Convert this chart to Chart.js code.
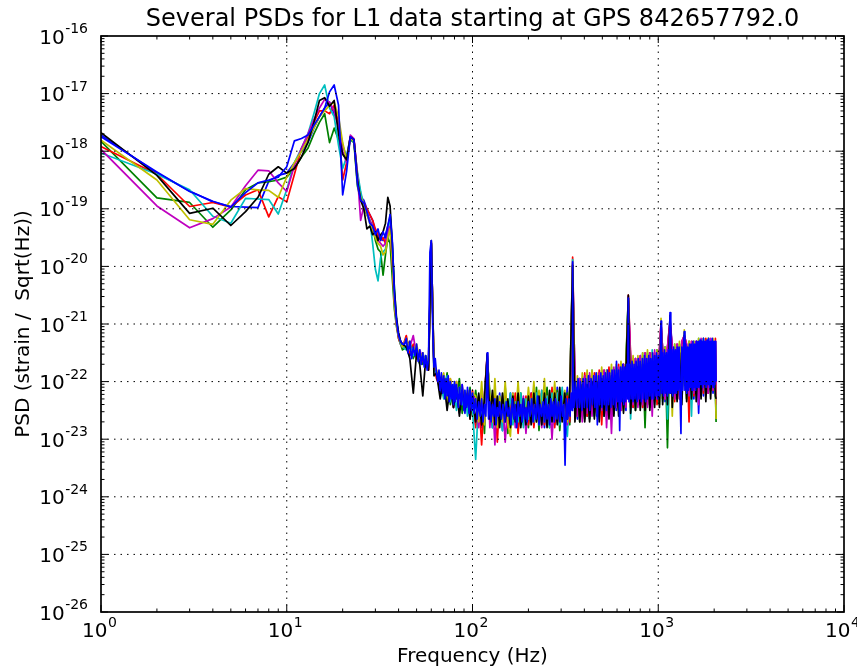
<!DOCTYPE html>
<html>
<head>
<meta charset="utf-8">
<title>Several PSDs for L1 data</title>
<script src="https://cdn.jsdelivr.net/npm/chart.js@4.4.1/dist/chart.umd.min.js"></script>
<style>
  html, body { margin: 0; padding: 0; background: #fff; }
  #psd-chart { display: block; }
</style>
</head>
<body>
<canvas id="psd-chart" width="857" height="669"></canvas>
<script>
// frequency bins (Hz) read for the first seven curves
const freqs = [
  1, 2, 3, 4, 5, 6, 7, 8, 9, 10, 11, 12, 13, 14, 15, 16, 17, 18, 19, 20, 21,
  22, 23, 24, 25, 26, 27, 28, 29, 30, 31, 32, 33, 34, 35, 36, 37, 38, 39, 40, 41, 42,
  44, 46, 48, 50, 52, 54, 56, 58, 60, 62, 64,
  67, 70, 73, 76, 79, 82, 85, 88, 91, 94, 97, 100,
  104, 108, 112, 116, 120, 124, 128, 132, 136, 140, 145, 150, 155, 160, 165, 170, 176, 182, 188, 194, 200,
  207, 214, 221, 228, 236, 244, 252, 260, 268, 277, 286, 295, 304, 314, 324, 334, 346, 356, 367, 378, 390, 402,
  414, 427, 440, 453, 467, 481, 496, 511, 527, 543, 560, 577, 594, 612, 630, 650, 670, 690, 710, 732, 754, 777, 800,
  824, 849, 875, 901, 928, 956, 985, 1015, 1035, 1056, 1088, 1121, 1157, 1190, 1226, 1263, 1301, 1340, 1381, 1422,
  1465, 1510, 1555, 1602, 1650, 1700, 1751, 1804, 1858, 1914, 1972, 2031, 2048
];

// finer bins for the last (top-most) curve, which forms the solid band
const freqsFine = [
  1, 2, 3, 4, 5, 6, 7, 8, 9, 10, 11, 12, 13, 14, 15, 16, 17, 18, 19, 20, 21,
  22, 23, 24, 25, 26, 27, 28, 29, 30, 31, 32, 33, 34, 35, 36, 37, 38, 39, 40, 41, 42,
  43, 44, 45, 46, 47, 48, 49, 50, 51, 52, 53, 54, 55, 56, 57, 58, 59, 60, 61, 62, 63, 64,
  65, 66, 67, 68, 69, 70, 71, 72, 73, 74, 75, 76, 77, 78, 79, 80,
  81, 82, 84, 85, 87, 88, 90, 91, 93, 94, 96, 97, 99, 100,
  102, 104, 106, 108, 110, 112, 114, 116, 118, 119, 120, 121, 122, 124, 126, 128, 130, 132, 134, 136, 138, 140,
  143, 146, 149, 152, 155, 158, 161, 164, 167, 170, 173, 176, 179, 182, 185, 188, 191, 194, 197, 200,
  204, 208, 212, 216, 220, 224, 228, 232, 236, 240, 244, 248, 252, 256, 260, 264, 268, 272, 276, 280,
  285, 290, 295, 300, 305, 310, 315, 320, 325, 330, 335, 340, 344, 346, 348, 352, 358, 364, 370, 376, 382, 388, 394, 400,
  407, 414, 421, 428, 435, 442, 449, 456, 463, 470, 477, 484, 491, 498, 505, 512, 519, 526, 533, 540,
  548, 556, 564, 572, 580, 588, 596, 604, 612, 620, 628, 636, 644, 652, 660, 668, 676,
  684, 690, 696, 705, 714, 723, 732, 741, 750, 760, 770, 780, 790, 800,
  811, 822, 833, 844, 855, 866, 877, 888, 899, 910, 921, 932,
  944, 956, 968, 980, 992, 1004, 1016, 1028, 1035,
  1042, 1055, 1068, 1081, 1094, 1107, 1120, 1133, 1146, 1157,
  1168, 1182, 1196, 1210, 1224, 1238, 1252, 1266, 1280,
  1295, 1310, 1325, 1340, 1355, 1370, 1381,
  1392, 1408, 1424, 1440, 1456, 1472, 1488, 1504,
  1521, 1538, 1555, 1572, 1589, 1606, 1624, 1642, 1660, 1678, 1696, 1714,
  1733, 1752, 1771, 1790, 1810, 1830, 1850, 1870, 1890,
  1911, 1932, 1953, 1974, 1995, 2016, 2037, 2048
];

// log10 of the PSD (strain / sqrt(Hz)) at each bin
const psdBlue1 = [
  -17.72,-18.38,-18.69,-18.88,-18.96,-18.97,-18.98,-18.52,-18.42,-18.38,-18.2,-18.0,-17.85,-17.6,-17.4,-17.25,-17.15,-17.35,-17.5,-17.9,
  -18.1,-17.75,-17.8,-18.45,-18.8,-18.85,-19.0,-19.1,-19.2,-19.4,-19.5,-19.5,-19.55,-19.45,-19.3,-19.15,-19.7,-20.55,-20.95,-21.2,-21.3,-21.4,
  -21.3,-21.55,-21.45,-21.5,-21.65,-21.5,-21.7,-21.6,-19.6,-21.7,-21.85,
  -22.2,-21.9,-22.35,-22.0,-22.45,-22.05,-22.5,-22.1,-22.55,-22.15,-22.6,-22.2,
  -22.75,-22.3,-22.8,-22.25,-21.55,-22.3,-22.8,-22.35,-22.7,-22.2,-22.85,-22.3,-22.75,-22.2,-22.7,-22.3,-22.8,-22.25,-22.75,-22.3,-22.7,
  -22.2,-22.75,-22.25,-22.7,-22.2,-22.8,-22.15,-22.7,-22.2,-22.75,-22.1,-22.7,-22.15,-22.65,-22.1,-22.7,-19.97,-22.0,-22.65,-21.95,-22.6,-21.9,
  -22.6,-21.95,-22.55,-21.9,-22.6,-21.85,-22.5,-21.9,-22.55,-21.8,-22.5,-21.85,-22.5,-21.75,-22.45,-21.7,-22.5,-20.55,-21.65,-22.45,-21.6,-22.4,-21.6,
  -22.45,-21.55,-22.4,-21.5,-22.4,-21.55,-22.35,-21.5,-21.0,-21.45,-22.35,-21.45,-20.9,-21.4,-22.3,-21.4,-22.3,-21.35,-21.2,-21.4,
  -22.25,-21.35,-22.3,-21.3,-22.55,-21.3,-22.25,-21.3,-22.2,-21.28,-22.2,-21.3,-22.0
];
const psdGreen = [
  -17.83,-18.81,-18.89,-19.32,-19.02,-18.67,-18.55,-18.53,-18.5,-18.45,-18.3,-18.1,-17.95,-17.7,-17.5,-17.35,-17.85,-17.6,-17.8,-18.05,
  -18.15,-17.8,-17.85,-18.6,-18.85,-18.95,-19.1,-19.2,-19.3,-19.55,-19.7,-19.75,-20.15,-19.8,-19.5,-19.6,-20.2,-20.75,-21.05,-21.25,-21.35,-21.45,
  -21.4,-21.3,-21.6,-21.45,-21.55,-21.7,-21.55,-21.75,-19.62,-21.65,-21.9,
  -21.95,-22.25,-21.85,-22.4,-22.1,-22.3,-21.95,-22.55,-22.2,-22.45,-22.1,-22.6,
  -22.15,-22.6,-22.2,-22.9,-21.6,-22.25,-22.7,-22.15,-22.8,-22.3,-22.65,-22.1,-22.9,-22.35,-22.7,-22.25,-22.85,-22.2,-22.6,-22.35,-22.8,
  -22.25,-22.7,-22.1,-22.85,-22.2,-22.65,-22.1,-22.8,-22.3,-22.6,-22.15,-22.85,-22.25,-22.6,-22.2,-22.75,-20.0,-22.55,-22.0,-22.7,-21.95,-22.65,
  -21.9,-22.65,-21.85,-22.6,-21.95,-22.55,-21.8,-22.6,-21.85,-22.5,-21.8,-22.55,-21.75,-22.5,-21.7,-22.4,-21.7,-20.6,-22.45,-21.65,-22.5,-21.6,-22.4,
  -21.55,-22.8,-21.5,-22.45,-21.5,-22.35,-21.45,-22.4,-21.05,-22.3,-21.4,-23.15,-21.35,-22.3,-21.4,-22.3,-21.35,-22.25,-21.15,-22.3,
  -21.3,-22.25,-21.3,-22.2,-21.3,-22.25,-21.25,-22.2,-21.3,-22.15,-21.3,-22.1,-22.7
];
const psdRed = [
  -17.92,-18.4,-18.96,-18.89,-18.97,-18.76,-18.67,-19.14,-18.79,-18.88,-18.4,-17.95,-17.75,-17.5,-17.3,-17.3,-17.35,-17.2,-17.5,-18.5,
  -18.2,-17.75,-17.8,-18.4,-18.75,-18.9,-19.0,-19.1,-19.2,-19.35,-19.45,-19.55,-19.5,-19.6,-19.3,-19.35,-19.9,-20.6,-21.0,-21.25,-21.35,-21.4,
  -21.2,-21.5,-21.35,-21.6,-21.5,-21.65,-21.6,-21.8,-19.58,-21.7,-21.95,
  -22.1,-21.9,-22.3,-21.95,-22.45,-22.0,-22.5,-22.15,-22.4,-22.2,-22.65,-22.15,
  -22.8,-22.25,-23.1,-22.2,-21.55,-22.35,-22.75,-22.2,-23.05,-22.3,-22.7,-22.25,-22.8,-22.3,-22.65,-22.2,-22.9,-22.3,-22.7,-22.25,-22.75,
  -22.2,-22.8,-22.3,-22.7,-22.15,-22.75,-22.25,-22.65,-22.1,-22.8,-22.2,-22.7,-22.15,-22.6,-22.25,-22.7,-19.84,-22.05,-22.6,-21.95,-22.55,-21.85,
  -22.6,-21.9,-22.5,-21.85,-22.55,-21.8,-22.75,-21.8,-22.5,-21.75,-22.55,-21.8,-22.45,-21.7,-22.5,-21.7,-22.4,-20.5,-21.55,-22.45,-21.6,-22.4,-21.55,
  -22.45,-21.5,-22.4,-21.5,-22.35,-21.5,-22.4,-21.45,-20.98,-21.45,-22.3,-21.4,-21.0,-21.4,-22.35,-21.35,-22.3,-21.3,-21.2,-21.35,
  -22.7,-21.3,-22.25,-21.3,-22.2,-21.3,-22.2,-21.25,-22.2,-21.3,-22.15,-21.25,-22.3
];
const psdCyan = [
  -18.03,-18.4,-18.67,-19.13,-19.25,-18.82,-18.83,-18.84,-19.09,-18.67,-18.2,-17.95,-17.7,-17.35,-17.0,-16.85,-17.25,-17.4,-17.9,-18.3,
  -18.1,-17.75,-17.85,-18.35,-18.7,-18.95,-19.05,-19.2,-19.6,-20.05,-20.25,-19.85,-19.75,-19.7,-19.45,-19.1,-19.6,-20.4,-20.95,-21.2,-21.35,-21.4,
  -21.45,-21.35,-21.55,-21.5,-21.7,-21.55,-21.65,-21.7,-19.6,-21.8,-21.85,
  -22.0,-22.3,-21.9,-22.35,-22.05,-22.5,-22.1,-22.4,-22.15,-22.6,-22.2,-22.5,
  -23.35,-22.3,-22.7,-22.25,-21.6,-22.2,-22.8,-22.3,-22.7,-22.25,-22.85,-22.3,-22.65,-22.2,-22.75,-22.35,-22.7,-22.2,-22.8,-22.3,-22.65,
  -22.3,-22.7,-22.2,-22.75,-22.15,-22.7,-22.25,-22.8,-22.2,-22.65,-22.2,-22.75,-22.1,-22.7,-22.95,-22.2,-19.88,-22.6,-22.0,-22.65,-21.95,-22.6,
  -21.85,-22.65,-21.8,-22.6,-21.9,-22.55,-21.85,-22.6,-21.8,-22.5,-21.75,-22.55,-21.75,-22.45,-21.7,-22.5,-21.65,-20.55,-22.65,-21.6,-22.45,-21.6,-22.35,
  -21.5,-22.4,-21.5,-22.35,-21.45,-22.4,-21.45,-22.3,-21.0,-22.35,-21.4,-22.65,-21.35,-22.3,-21.35,-22.25,-21.35,-22.3,-21.2,-22.25,
  -21.3,-22.6,-21.3,-22.2,-21.25,-22.2,-21.3,-22.2,-21.25,-22.15,-21.3,-22.2,-22.5
];
const psdMagenta = [
  -17.97,-18.95,-19.33,-19.17,-18.97,-18.6,-18.33,-18.34,-18.55,-18.7,-18.25,-17.95,-17.7,-17.45,-17.25,-17.1,-17.15,-17.3,-17.6,-18.0,
  -18.2,-17.72,-17.78,-18.4,-19.2,-18.95,-19.05,-19.2,-19.3,-19.45,-19.55,-19.6,-19.65,-19.6,-19.4,-19.3,-19.85,-20.6,-21.0,-21.2,-21.3,-21.35,
  -21.3,-21.4,-21.2,-21.55,-21.45,-21.6,-21.7,-21.65,-19.6,-21.75,-21.8,
  -22.15,-21.9,-22.4,-22.0,-22.3,-22.1,-22.55,-22.05,-22.45,-22.2,-22.55,-22.25,
  -22.3,-22.8,-22.2,-22.7,-21.52,-22.8,-22.25,-23.1,-22.3,-22.7,-22.25,-23.05,-22.35,-22.7,-22.2,-22.8,-22.3,-22.65,-22.25,-22.9,-22.3,
  -22.7,-22.2,-22.65,-22.25,-22.8,-22.15,-22.7,-22.3,-23.0,-22.2,-22.7,-22.25,-22.65,-22.2,-22.75,-22.25,-19.95,-22.0,-22.6,-21.95,-22.7,-21.9,
  -22.55,-21.85,-22.6,-21.9,-22.55,-21.85,-22.5,-21.8,-22.8,-21.85,-22.9,-21.75,-22.45,-21.75,-22.5,-21.7,-22.45,-20.52,-21.6,-22.4,-21.6,-22.45,-21.55,
  -22.4,-21.5,-22.45,-21.5,-22.6,-21.45,-22.3,-21.45,-21.0,-21.45,-22.3,-21.4,-20.95,-21.4,-22.3,-21.35,-22.25,-21.3,-21.2,-21.35,
  -22.25,-21.3,-22.2,-21.3,-22.4,-21.25,-22.15,-21.3,-22.2,-21.25,-22.15,-21.3,-22.4
];
const psdYellow = [
  -17.81,-18.5,-19.19,-19.27,-18.85,-18.65,-18.67,-18.68,-18.8,-18.45,-18.2,-18.0,-17.8,-17.6,-17.4,-17.3,-17.2,-17.15,-17.4,-17.85,
  -18.15,-17.78,-17.82,-18.55,-18.8,-18.95,-19.1,-19.25,-19.4,-19.5,-19.6,-19.65,-19.8,-19.75,-19.5,-19.35,-19.9,-20.65,-21.0,-21.2,-21.3,-21.4,
  -21.25,-21.45,-21.5,-21.35,-21.6,-21.5,-21.75,-21.6,-19.6,-21.7,-21.8,
  -22.05,-21.85,-22.35,-21.95,-22.4,-22.0,-22.45,-22.1,-22.5,-22.15,-22.45,-22.2,
  -22.25,-22.7,-22.0,-22.75,-21.55,-22.2,-22.7,-21.95,-22.8,-22.25,-22.7,-22.0,-22.75,-22.95,-22.2,-22.7,-22.0,-22.75,-22.3,-22.65,-22.1,
  -22.6,-22.0,-22.7,-22.15,-22.65,-21.95,-22.75,-22.2,-22.6,-22.0,-22.7,-22.2,-22.65,-22.15,-22.7,-22.1,-19.96,-22.5,-21.9,-22.6,-21.85,-22.55,
  -21.8,-22.6,-21.8,-22.5,-21.85,-22.55,-21.75,-22.5,-21.8,-22.55,-21.7,-22.5,-21.7,-22.45,-21.65,-22.5,-21.6,-20.55,-22.4,-21.55,-22.45,-21.55,-22.35,
  -21.5,-22.4,-21.45,-22.35,-21.5,-22.3,-21.45,-22.35,-20.9,-22.3,-21.4,-22.25,-21.35,-22.6,-21.35,-22.25,-21.3,-22.25,-21.1,-22.3,
  -21.3,-22.2,-21.3,-22.2,-21.25,-22.15,-21.3,-22.2,-21.25,-22.15,-21.25,-22.1,-22.65
];
const psdBlack = [
  -17.68,-18.42,-19.08,-18.99,-19.29,-19.05,-18.8,-18.4,-18.27,-18.38,-18.3,-18.1,-17.85,-17.5,-17.12,-17.07,-17.22,-17.12,-17.7,-18.05,
  -18.15,-17.75,-17.8,-18.5,-18.85,-19.0,-19.35,-19.3,-19.45,-19.4,-19.55,-19.45,-19.4,-19.25,-18.8,-18.95,-19.6,-20.4,-20.9,-21.15,-21.3,-21.35,
  -21.4,-21.6,-22.2,-21.5,-21.7,-22.25,-21.6,-21.8,-19.55,-21.9,-21.85,
  -22.3,-21.95,-22.5,-22.05,-22.45,-22.1,-22.6,-22.15,-22.5,-22.2,-22.65,-22.25,
  -22.7,-22.2,-22.75,-22.3,-21.52,-22.65,-22.15,-22.75,-22.25,-22.8,-22.2,-22.7,-22.3,-22.8,-22.25,-22.7,-22.2,-22.8,-22.3,-22.75,-22.25,
  -22.75,-22.2,-22.7,-22.25,-22.75,-22.2,-22.8,-22.15,-22.7,-22.2,-22.75,-22.1,-22.7,-22.2,-22.65,-22.15,-19.98,-22.7,-22.1,-22.7,-22.05,-22.7,
  -22.05,-22.7,-22.0,-22.65,-22.0,-22.7,-21.95,-22.6,-22.0,-22.65,-21.9,-22.6,-21.9,-22.6,-21.85,-22.55,-21.8,-20.5,-22.55,-21.8,-22.5,-21.75,-22.5,
  -21.7,-22.5,-21.7,-22.5,-21.65,-22.45,-21.6,-22.45,-21.0,-22.4,-21.55,-22.4,-20.85,-22.45,-21.5,-22.35,-21.5,-22.4,-21.2,-22.35,
  -21.45,-22.3,-21.45,-22.35,-21.4,-22.3,-21.4,-22.35,-21.4,-22.3,-21.4,-22.25,-22.3
];
// on freqsFine
const psdBlue2 = [
  -17.75,-18.36,-18.7,-18.87,-18.97,-18.72,-18.55,-18.5,-18.45,-18.27,-17.82,-17.78,-17.72,-17.55,-17.4,-17.25,-16.97,-16.85,-17.2,-18.76,
  -18.35,-17.75,-17.8,-18.56,-18.85,-18.9,-19.05,-19.25,-19.3,-19.45,-19.35,-19.55,-19.4,-19.5,-19.3,-19.1,-19.55,-20.5,-20.95,-21.2,-21.3,-21.35,
  -21.35,-21.25,-21.5,-21.3,-21.6,-21.4,-21.55,-21.35,-21.65,-21.45,-21.7,-21.5,-21.75,-21.55,-21.8,-21.6,-19.75,-19.55,-21.0,-21.75,-21.6,-21.85,
  -22.0,-21.8,-22.15,-21.85,-22.2,-21.9,-22.3,-21.95,-22.25,-21.9,-22.35,-22.0,-22.3,-22.05,-22.4,-22.0,
  -22.35,-22.05,-22.45,-22.1,-22.4,-22.05,-22.5,-22.15,-22.45,-22.1,-22.55,-22.15,-22.5,-22.2,
  -22.55,-22.3,-22.65,-22.35,-22.6,-22.3,-22.7,-22.4,-22.6,-22.1,-21.5,-22.2,-22.65,-22.35,-22.7,-22.4,-22.6,-22.3,-22.75,-22.45,-22.6,-22.35,
  -22.65,-22.4,-22.7,-22.35,-22.6,-22.45,-22.75,-22.3,-22.65,-22.4,-22.8,-22.35,-22.6,-22.4,-22.7,-22.3,-22.65,-22.45,-22.7,-22.35,
  -22.6,-22.3,-22.7,-22.4,-22.65,-22.25,-22.75,-22.4,-22.6,-22.35,-22.7,-22.3,-22.65,-22.4,-22.75,-22.3,-22.6,-22.35,-22.7,-22.3,
  -22.65,-22.35,-22.7,-22.25,-22.6,-22.4,-23.45,-22.3,-22.65,-22.3,-22.6,-22.2,-22.5,-19.92,-22.3,-22.45,-22.0,-22.45,-21.95,-22.45,-22.0,-22.5,-21.95,-22.45,
  -21.95,-22.45,-21.9,-22.5,-21.95,-22.4,-21.9,-22.45,-21.85,-22.75,-21.9,-22.4,-21.85,-22.45,-21.9,-22.4,-21.85,-22.5,-21.8,-22.4,
  -21.85,-22.45,-21.8,-22.4,-21.8,-22.45,-21.65,-22.35,-21.8,-22.85,-21.75,-22.35,-21.7,-22.4,-21.75,-22.35,-21.7,
  -22.3,-20.55,-22.35,-21.7,-22.3,-21.65,-22.35,-21.7,-22.3,-21.65,-22.35,-21.6,-22.3,-21.65,
  -22.35,-21.6,-22.3,-21.55,-22.35,-21.6,-22.3,-21.55,-22.25,-21.6,-22.3,-21.5,
  -22.3,-21.55,-22.25,-21.5,-22.3,-21.55,-22.25,-21.5,-20.95,
  -22.2,-21.5,-22.25,-21.45,-22.2,-21.5,-22.25,-21.45,-22.2,-20.8,
  -22.2,-21.45,-22.25,-21.4,-22.2,-21.45,-22.2,-21.4,-22.15,
  -21.4,-22.2,-22.9,-21.4,-22.15,-21.4,-21.13,
  -22.15,-21.35,-22.2,-21.4,-22.15,-21.35,-22.1,-21.35,
  -22.15,-21.3,-22.1,-21.35,-22.15,-21.3,-22.1,-21.3,-22.1,-21.28,-22.05,-21.3,
  -22.1,-21.25,-22.05,-21.3,-22.1,-21.28,-22.05,-21.25,-22.1,
  -21.3,-22.05,-21.25,-22.1,-21.3,-22.05,-21.3,-22.0
];

const seriesLabels = ['PSD 1', 'PSD 2', 'PSD 3', 'PSD 4', 'PSD 5', 'PSD 6', 'PSD 7', 'PSD 8'];
const seriesColors = ['#0000ff', '#008000', '#ff0000', '#00bfbf', '#bf00bf', '#bfbf00', '#000000', '#0000ff'];

// decade exponents used for the major ticks / labels
const xDecades = [0, 1, 2, 3, 4];
const yDecades = [-26, -25, -24, -23, -22, -21, -20, -19, -18, -17, -16];

const FONT = 'DejaVu Sans';
Chart.defaults.font.family = FONT;

const psdSeries = [psdBlue1, psdGreen, psdRed, psdCyan, psdMagenta, psdYellow, psdBlack, psdBlue2];
const seriesFreqs = [freqs, freqs, freqs, freqs, freqs, freqs, freqs, freqsFine];

const datasets = psdSeries.map((vals, i) => {
  const fx = seriesFreqs[i];
  if (vals.length !== fx.length) {
    throw new Error(seriesLabels[i] + ' has ' + vals.length + ' values, expected ' + fx.length);
  }
  return {
    label: seriesLabels[i],
    data: fx.map((f, j) => ({ x: f, y: Math.pow(10, vals[j]) })),
    borderColor: seriesColors[i],
    borderWidth: 1.7,
    borderJoinStyle: 'round',
    pointRadius: 0,
    fill: false,
    tension: 0,
    // later series are painted on top, like matplotlib
    order: psdSeries.length - 1 - i,
  };
});

// matplotlib-classic frame: dotted grid, inward ticks on all sides, 10^n labels
const axesFrame = {
  id: 'axesFrame',
  afterDatasetsDraw(chart) {
    const { ctx, chartArea: a } = chart;
    const { x, y } = chart.scales;
    ctx.save();

    ctx.strokeStyle = '#000';
    ctx.lineWidth = 1;
    ctx.setLineDash([1.5, 5]);
    ctx.beginPath();
    xDecades.forEach((e) => {
      const px = x.getPixelForValue(Math.pow(10, e));
      if (px > a.left + 1 && px < a.right - 1) {
        ctx.moveTo(px, a.bottom);
        ctx.lineTo(px, a.top);
      }
    });
    yDecades.forEach((e) => {
      const py = y.getPixelForValue(Math.pow(10, e));
      if (py > a.top + 1 && py < a.bottom - 1) {
        ctx.moveTo(a.left, py);
        ctx.lineTo(a.right, py);
      }
    });
    ctx.stroke();
    ctx.setLineDash([]);

    // ticks (major at decades, minor at 2..9)
    ctx.lineWidth = 1;
    ctx.beginPath();
    xDecades.forEach((e) => {
      for (let m = 1; m <= 9; m++) {
        const v = m * Math.pow(10, e);
        if (v > x.max * 1.0001) break;
        const px = x.getPixelForValue(v);
        const len = m === 1 ? 7 : 3.5;
        ctx.moveTo(px, a.bottom); ctx.lineTo(px, a.bottom - len);
        ctx.moveTo(px, a.top); ctx.lineTo(px, a.top + len);
      }
    });
    yDecades.forEach((e) => {
      for (let m = 1; m <= 9; m++) {
        const v = m * Math.pow(10, e);
        if (v > y.max * 1.0001) break;
        const py = y.getPixelForValue(v);
        const len = m === 1 ? 7 : 3.5;
        ctx.moveTo(a.left, py); ctx.lineTo(a.left + len, py);
        ctx.moveTo(a.right, py); ctx.lineTo(a.right - len, py);
      }
    });
    ctx.stroke();

    ctx.lineWidth = 1.7;
    ctx.strokeRect(a.left, a.top, a.right - a.left, a.bottom - a.top);

    // tick labels as 10 with a raised exponent
    ctx.fillStyle = '#000';
    ctx.textBaseline = 'alphabetic';
    ctx.textAlign = 'left';
    const big = '20px "' + FONT + '"';
    const small = '14px "' + FONT + '"';

    yDecades.forEach((e) => {
      const py = y.getPixelForValue(Math.pow(10, e));
      const sup = String(e);
      ctx.font = small;
      const ws = ctx.measureText(sup).width;
      const right = a.left - 13;
      ctx.fillText(sup, right - ws, py - 3);
      ctx.font = big;
      const wb = ctx.measureText('10').width;
      ctx.fillText('10', right - ws - wb - 0.5, py + 7.5);
    });

    xDecades.forEach((e) => {
      const px = x.getPixelForValue(Math.pow(10, e));
      const sup = String(e);
      ctx.font = small;
      const ws = ctx.measureText(sup).width;
      ctx.font = big;
      const wb = ctx.measureText('10').width;
      const start = px - (wb + 0.5 + ws) / 2 - 1.5;
      ctx.fillText('10', start, a.bottom + 25);
      ctx.font = small;
      ctx.fillText(sup, start + wb + 0.5, a.bottom + 15);
    });

    ctx.restore();
  },
};

new Chart(document.getElementById('psd-chart'), {
  type: 'line',
  data: { datasets },
  options: {
    responsive: false,
    animation: false,
    devicePixelRatio: 1,
    layout: { padding: { left: 0, right: 13, top: 0, bottom: 0 } },
    plugins: {
      legend: { display: false },
      tooltip: { enabled: false },
      title: {
        display: true,
        fullSize: false,
        text: 'Several PSDs for L1 data starting at GPS 842657792.0',
        color: '#000',
        font: { family: FONT, size: 24, weight: 'normal' },
        padding: { top: 5, bottom: 2.2 },
      },
    },
    scales: {
      x: {
        type: 'logarithmic',
        min: 1,
        max: 10000,
        ticks: { display: false },
        grid: { display: false, drawTicks: false },
        border: { display: false },
        title: {
          display: true,
          text: 'Frequency (Hz)',
          color: '#000',
          font: { family: FONT, size: 20, weight: 'normal' },
          padding: { top: 33, bottom: 0 },
        },
      },
      y: {
        type: 'logarithmic',
        min: 1e-26,
        max: 1e-16,
        ticks: { display: false },
        grid: { display: false, drawTicks: false },
        border: { display: false },
        title: {
          display: true,
          text: 'PSD (strain /  Sqrt(Hz))',
          color: '#000',
          font: { family: FONT, size: 20, weight: 'normal' },
          padding: { top: 12, bottom: 65 },
        },
      },
    },
  },
  plugins: [axesFrame],
});
</script>
</body>
</html>
